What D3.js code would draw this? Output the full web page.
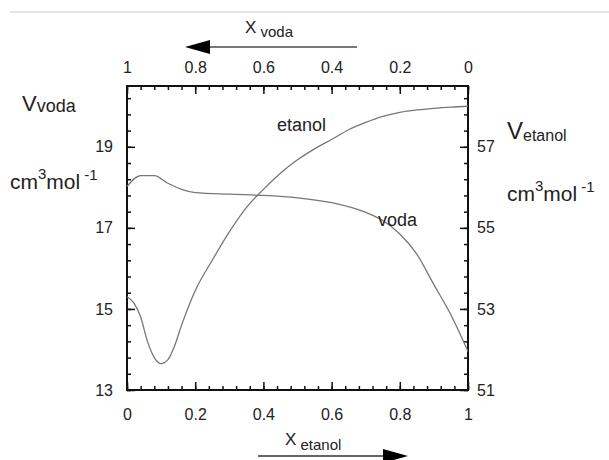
<!DOCTYPE html>
<html>
<head>
<meta charset="utf-8">
<script src="https://cdn.jsdelivr.net/npm/d3@7"></script>
<style>
  body { margin: 0; background: #fff; }
  svg { display: block; font-family: "Liberation Sans", Arial, sans-serif; }
</style>
</head>
<body>
<svg></svg>
<script>
// mole fraction of ethanol and partial molar volumes
const vodaX = [0, 0.04, 0.08, 0.12, 0.16, 0.2, 0.3, 0.4, 0.5, 0.6, 0.7, 0.75, 0.8, 0.85, 0.9, 0.95, 1.0];
const vodaV = [18.02, 18.29, 18.29, 18.1, 17.95, 17.87, 17.83, 17.8, 17.74, 17.62, 17.38, 17.18, 16.85, 16.35, 15.6, 14.85, 13.95];
const etanolX = [0, 0.02, 0.04, 0.06, 0.08, 0.1, 0.12, 0.14, 0.16, 0.18, 0.2, 0.25, 0.3, 0.35, 0.4, 0.45, 0.5, 0.55, 0.6, 0.65, 0.7, 0.75, 0.8, 0.85, 0.9, 0.95, 1.0];
const etanolV = [53.3, 53.15, 52.8, 52.2, 51.8, 51.65, 51.75, 52.1, 52.6, 53.05, 53.45, 54.2, 54.9, 55.5, 55.95, 56.35, 56.68, 56.95, 57.18, 57.42, 57.6, 57.75, 57.85, 57.91, 57.95, 57.98, 58.0];
const xTicks = [0, 0.2, 0.4, 0.6, 0.8, 1];
const leftTicks = [13, 15, 17, 19];
const rightTicks = [51, 53, 55, 57];

const width = 609;
const height = 460;
const margin = { top: 86, left: 127, right: 141, bottom: 70 };
const innerWidth = width - margin.left - margin.right;
const innerHeight = height - margin.top - margin.bottom;

const svg = d3.select("svg").attr("width", width).attr("height", height);

// thin page rule at the top
svg.append("line")
  .attr("x1", 10).attr("x2", width)
  .attr("y1", 12).attr("y2", 12)
  .attr("stroke", "#ddd").attr("stroke-width", 1.5);

const plot = svg.append("g")
  .attr("transform", `translate(${margin.left},${margin.top})`);

const x = d3.scaleLinear().domain([0, 1]).range([0, innerWidth]);
const xTop = d3.scaleLinear().domain([1, 0]).range([0, innerWidth]);
const yLeft = d3.scaleLinear().domain([13, 20.5]).range([innerHeight, 0]);
const yRight = d3.scaleLinear().domain([51, 58.5]).range([innerHeight, 0]);

const minorX = d3.range(0, 1.0001, 0.04);
const minorLeft = d3.range(13, 20.5, 0.4);
const minorRight = d3.range(51, 58.5, 0.4);

function styleAxis(g) {
  g.attr("font-family", null).attr("font-size", null);
  g.select(".domain").remove();
  g.selectAll("line").attr("stroke", "#111").attr("stroke-width", 1.5);
  g.selectAll("text").attr("fill", "#222").attr("font-size", 16);
}
function minorAxis(g) {
  styleAxis(g);
  g.selectAll("text").remove();
}

// minor ticks (inward)
plot.append("g").attr("transform", `translate(0,${innerHeight})`)
  .call(d3.axisBottom(x).tickValues(minorX).tickSize(-4))
  .call(minorAxis);
plot.append("g")
  .call(d3.axisTop(xTop).tickValues(minorX).tickSize(-4))
  .call(minorAxis);
plot.append("g")
  .call(d3.axisLeft(yLeft).tickValues(minorLeft).tickSize(-4))
  .call(minorAxis);
plot.append("g").attr("transform", `translate(${innerWidth},0)`)
  .call(d3.axisRight(yRight).tickValues(minorRight).tickSize(-4))
  .call(minorAxis);

// major ticks with labels
plot.append("g").attr("transform", `translate(0,${innerHeight})`)
  .call(d3.axisBottom(x).tickValues(xTicks).tickSize(-8).tickPadding(19).tickFormat(d3.format("~g")))
  .call(styleAxis);
plot.append("g")
  .call(d3.axisTop(xTop).tickValues(xTicks).tickSize(-8).tickPadding(13).tickFormat(d3.format("~g")))
  .call(styleAxis);
plot.append("g")
  .call(d3.axisLeft(yLeft).tickValues(leftTicks).tickSize(-8).tickPadding(14).tickFormat(d3.format("d")))
  .call(styleAxis);
plot.append("g").attr("transform", `translate(${innerWidth},0)`)
  .call(d3.axisRight(yRight).tickValues(rightTicks).tickSize(-8).tickPadding(9).tickFormat(d3.format("d")))
  .call(styleAxis);

// frame
plot.append("rect")
  .attr("width", innerWidth)
  .attr("height", innerHeight)
  .attr("fill", "none")
  .attr("stroke", "#111")
  .attr("stroke-width", 2);

// curves
const vodaLine = d3.line()
  .x(d => x(d[0]))
  .y(d => yLeft(d[1]))
  .curve(d3.curveMonotoneX);
const etanolLine = d3.line()
  .x(d => x(d[0]))
  .y(d => yRight(d[1]))
  .curve(d3.curveMonotoneX);

plot.append("path")
  .datum(d3.zip(vodaX, vodaV))
  .attr("d", vodaLine)
  .attr("fill", "none")
  .attr("stroke", "#777")
  .attr("stroke-width", 1.3);
plot.append("path")
  .datum(d3.zip(etanolX, etanolV))
  .attr("d", etanolLine)
  .attr("fill", "none")
  .attr("stroke", "#777")
  .attr("stroke-width", 1.3);

// curve labels
svg.append("text").attr("x", 277).attr("y", 131)
  .attr("font-size", 18).attr("fill", "#222").text("etanol");
svg.append("text").attr("x", 378).attr("y", 226)
  .attr("font-size", 18).attr("fill", "#222").text("voda");

// axis titles with sub/superscripts
function subLabel(px, py, main, sub, mainSize, subSize, dy) {
  const t = svg.append("text").attr("x", px).attr("y", py).attr("fill", "#222");
  t.append("tspan").attr("font-size", mainSize).text(main);
  t.append("tspan").attr("font-size", subSize).attr("dy", dy).text(sub);
  return t;
}
subLabel(245, 33, "X", " voda", 17, 15, 4);
subLabel(285, 445, "X", " etanol", 17, 15, 5);
subLabel(22, 111, "V", "voda", 22, 18, 1);
subLabel(507, 139, "V", "etanol", 24, 16, 2);

function unitLabel(px, py) {
  const t = svg.append("text").attr("x", px).attr("y", py).attr("fill", "#222").attr("font-size", 21);
  t.append("tspan").text("cm");
  t.append("tspan").attr("font-size", 15).attr("dy", -10).text("3");
  t.append("tspan").attr("dy", 10).text("mol");
  t.append("tspan").attr("font-size", 15).attr("dy", -9).text(" -1");
}
unitLabel(10, 189);
unitLabel(507, 201);

// direction arrows
svg.append("line").attr("x1", 357).attr("x2", 205).attr("y1", 47).attr("y2", 47)
  .attr("stroke", "#777").attr("stroke-width", 2);
svg.append("path").attr("d", "M185,47L210,40L210,54Z").attr("fill", "#000");
svg.append("line").attr("x1", 258).attr("x2", 388).attr("y1", 456).attr("y2", 456)
  .attr("stroke", "#666").attr("stroke-width", 2);
svg.append("path").attr("d", "M408,456L383,449L383,463Z").attr("fill", "#000");
</script>
</body>
</html>
